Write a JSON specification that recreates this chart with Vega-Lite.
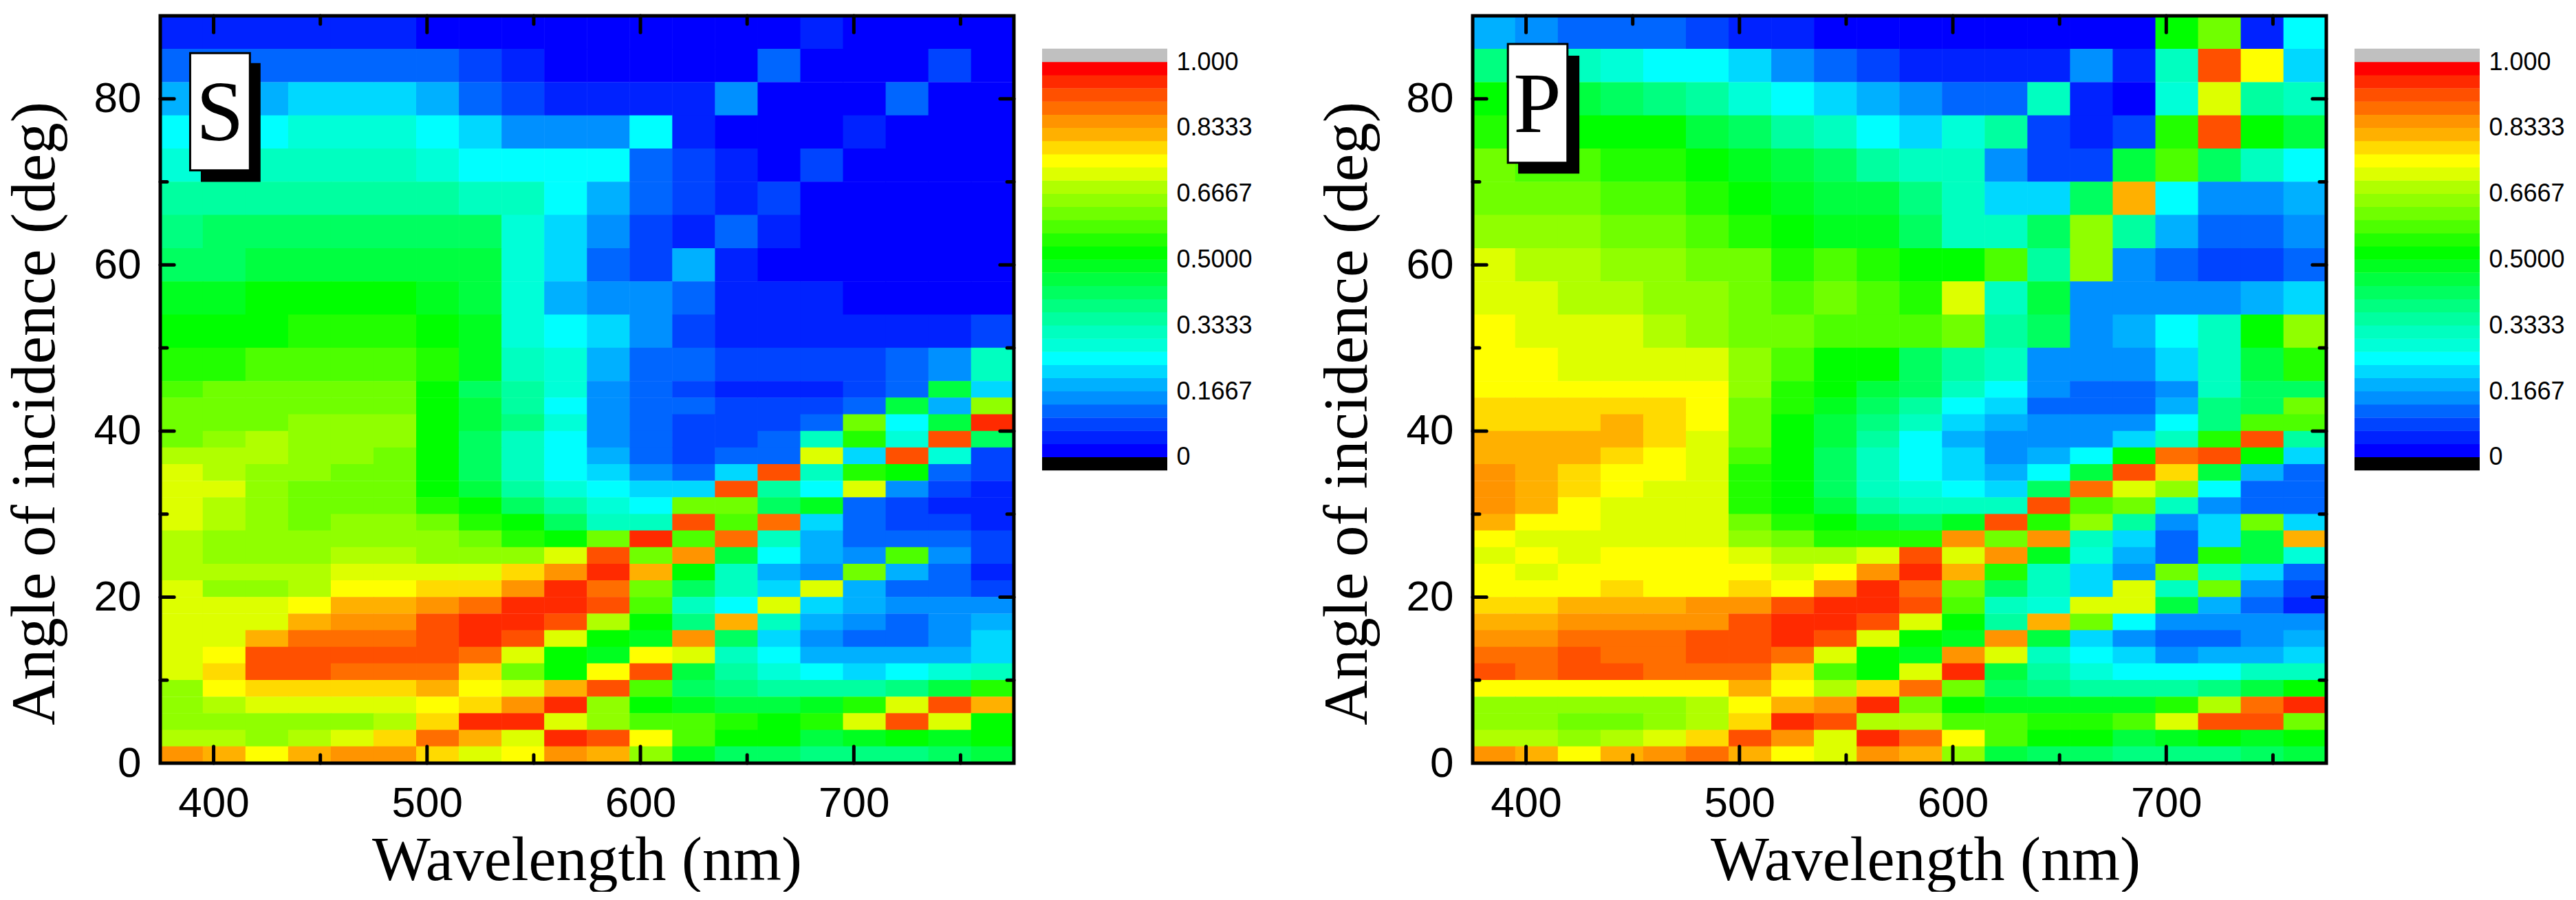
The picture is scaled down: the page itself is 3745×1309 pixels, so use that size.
{"$schema":"https://vega.github.io/schema/vega-lite/v6.json","background":"white","padding":{"left":5,"top":20,"right":0,"bottom":0},"config":{"view":{"stroke":null}},"bounds":"flush","spacing":41,
"datasets":{"S":[
{"w":385,"a":88,"v":0.04},{"w":405,"a":88,"v":0.04},{"w":425,"a":88,"v":0.04},{"w":445,"a":88,"v":0.04},{"w":465,"a":88,"v":0.04},{"w":485,"a":88,"v":0.04},{"w":505,"a":88,"v":0.03},{"w":525,"a":88,"v":0.02},{"w":545,"a":88,"v":0.02},{"w":565,"a":88,"v":0.02},{"w":585,"a":88,"v":0.02},{"w":605,"a":88,"v":0.02},{"w":625,"a":88,"v":0.02},{"w":645,"a":88,"v":0.02},{"w":665,"a":88,"v":0.02},{"w":685,"a":88,"v":0.05},{"w":705,"a":88,"v":0.02},{"w":725,"a":88,"v":0.02},{"w":745,"a":88,"v":0.02},{"w":765,"a":88,"v":0.02},
{"w":385,"a":84,"v":0.11},{"w":405,"a":84,"v":0.12},{"w":425,"a":84,"v":0.12},{"w":445,"a":84,"v":0.12},{"w":465,"a":84,"v":0.13},{"w":485,"a":84,"v":0.13},{"w":505,"a":84,"v":0.11},{"w":525,"a":84,"v":0.07},{"w":545,"a":84,"v":0.05},{"w":565,"a":84,"v":0.03},{"w":585,"a":84,"v":0.03},{"w":605,"a":84,"v":0.02},{"w":625,"a":84,"v":0.02},{"w":645,"a":84,"v":0.02},{"w":665,"a":84,"v":0.1},{"w":685,"a":84,"v":0.02},{"w":705,"a":84,"v":0.02},{"w":725,"a":84,"v":0.02},{"w":745,"a":84,"v":0.08},{"w":765,"a":84,"v":0.02},
{"w":385,"a":80,"v":0.17},{"w":405,"a":80,"v":0.18},{"w":425,"a":80,"v":0.19},{"w":445,"a":80,"v":0.2},{"w":465,"a":80,"v":0.2},{"w":485,"a":80,"v":0.2},{"w":505,"a":80,"v":0.17},{"w":525,"a":80,"v":0.13},{"w":545,"a":80,"v":0.08},{"w":565,"a":80,"v":0.06},{"w":585,"a":80,"v":0.05},{"w":605,"a":80,"v":0.05},{"w":625,"a":80,"v":0.06},{"w":645,"a":80,"v":0.15},{"w":665,"a":80,"v":0.03},{"w":685,"a":80,"v":0.02},{"w":705,"a":80,"v":0.02},{"w":725,"a":80,"v":0.12},{"w":745,"a":80,"v":0.02},{"w":765,"a":80,"v":0.02},
{"w":385,"a":76,"v":0.24},{"w":405,"a":76,"v":0.25},{"w":425,"a":76,"v":0.26},{"w":445,"a":76,"v":0.27},{"w":465,"a":76,"v":0.27},{"w":485,"a":76,"v":0.27},{"w":505,"a":76,"v":0.24},{"w":525,"a":76,"v":0.2},{"w":545,"a":76,"v":0.15},{"w":565,"a":76,"v":0.14},{"w":585,"a":76,"v":0.16},{"w":605,"a":76,"v":0.24},{"w":625,"a":76,"v":0.06},{"w":645,"a":76,"v":0.03},{"w":665,"a":76,"v":0.02},{"w":685,"a":76,"v":0.02},{"w":705,"a":76,"v":0.06},{"w":725,"a":76,"v":0.02},{"w":745,"a":76,"v":0.02},{"w":765,"a":76,"v":0.02},
{"w":385,"a":72,"v":0.29},{"w":405,"a":72,"v":0.3},{"w":425,"a":72,"v":0.3},{"w":445,"a":72,"v":0.31},{"w":465,"a":72,"v":0.31},{"w":485,"a":72,"v":0.31},{"w":505,"a":72,"v":0.29},{"w":525,"a":72,"v":0.26},{"w":545,"a":72,"v":0.25},{"w":565,"a":72,"v":0.25},{"w":585,"a":72,"v":0.26},{"w":605,"a":72,"v":0.12},{"w":625,"a":72,"v":0.08},{"w":645,"a":72,"v":0.04},{"w":665,"a":72,"v":0.02},{"w":685,"a":72,"v":0.07},{"w":705,"a":72,"v":0.03},{"w":725,"a":72,"v":0.02},{"w":745,"a":72,"v":0.02},{"w":765,"a":72,"v":0.02},
{"w":385,"a":68,"v":0.34},{"w":405,"a":68,"v":0.35},{"w":425,"a":68,"v":0.35},{"w":445,"a":68,"v":0.36},{"w":465,"a":68,"v":0.36},{"w":485,"a":68,"v":0.36},{"w":505,"a":68,"v":0.34},{"w":525,"a":68,"v":0.33},{"w":545,"a":68,"v":0.32},{"w":565,"a":68,"v":0.24},{"w":585,"a":68,"v":0.18},{"w":605,"a":68,"v":0.1},{"w":625,"a":68,"v":0.08},{"w":645,"a":68,"v":0.06},{"w":665,"a":68,"v":0.07},{"w":685,"a":68,"v":0.02},{"w":705,"a":68,"v":0.02},{"w":725,"a":68,"v":0.02},{"w":745,"a":68,"v":0.02},{"w":765,"a":68,"v":0.02},
{"w":385,"a":64,"v":0.39},{"w":405,"a":64,"v":0.4},{"w":425,"a":64,"v":0.41},{"w":445,"a":64,"v":0.41},{"w":465,"a":64,"v":0.42},{"w":485,"a":64,"v":0.42},{"w":505,"a":64,"v":0.41},{"w":525,"a":64,"v":0.4},{"w":545,"a":64,"v":0.28},{"w":565,"a":64,"v":0.2},{"w":585,"a":64,"v":0.14},{"w":605,"a":64,"v":0.08},{"w":625,"a":64,"v":0.06},{"w":645,"a":64,"v":0.1},{"w":665,"a":64,"v":0.04},{"w":685,"a":64,"v":0.02},{"w":705,"a":64,"v":0.02},{"w":725,"a":64,"v":0.02},{"w":745,"a":64,"v":0.02},{"w":765,"a":64,"v":0.02},
{"w":385,"a":60,"v":0.43},{"w":405,"a":60,"v":0.43},{"w":425,"a":60,"v":0.44},{"w":445,"a":60,"v":0.45},{"w":465,"a":60,"v":0.45},{"w":485,"a":60,"v":0.45},{"w":505,"a":60,"v":0.44},{"w":525,"a":60,"v":0.44},{"w":545,"a":60,"v":0.27},{"w":565,"a":60,"v":0.2},{"w":585,"a":60,"v":0.11},{"w":605,"a":60,"v":0.07},{"w":625,"a":60,"v":0.18},{"w":645,"a":60,"v":0.05},{"w":665,"a":60,"v":0.02},{"w":685,"a":60,"v":0.02},{"w":705,"a":60,"v":0.02},{"w":725,"a":60,"v":0.02},{"w":745,"a":60,"v":0.02},{"w":765,"a":60,"v":0.02},
{"w":385,"a":56,"v":0.48},{"w":405,"a":56,"v":0.49},{"w":425,"a":56,"v":0.5},{"w":445,"a":56,"v":0.5},{"w":465,"a":56,"v":0.5},{"w":485,"a":56,"v":0.5},{"w":505,"a":56,"v":0.48},{"w":525,"a":56,"v":0.46},{"w":545,"a":56,"v":0.27},{"w":565,"a":56,"v":0.18},{"w":585,"a":56,"v":0.14},{"w":605,"a":56,"v":0.15},{"w":625,"a":56,"v":0.1},{"w":645,"a":56,"v":0.05},{"w":665,"a":56,"v":0.05},{"w":685,"a":56,"v":0.04},{"w":705,"a":56,"v":0.03},{"w":725,"a":56,"v":0.03},{"w":745,"a":56,"v":0.03},{"w":765,"a":56,"v":0.03},
{"w":385,"a":52,"v":0.51},{"w":405,"a":52,"v":0.52},{"w":425,"a":52,"v":0.53},{"w":445,"a":52,"v":0.54},{"w":465,"a":52,"v":0.54},{"w":485,"a":52,"v":0.54},{"w":505,"a":52,"v":0.51},{"w":525,"a":52,"v":0.47},{"w":545,"a":52,"v":0.28},{"w":565,"a":52,"v":0.24},{"w":585,"a":52,"v":0.2},{"w":605,"a":52,"v":0.15},{"w":625,"a":52,"v":0.07},{"w":645,"a":52,"v":0.06},{"w":665,"a":52,"v":0.06},{"w":685,"a":52,"v":0.06},{"w":705,"a":52,"v":0.06},{"w":725,"a":52,"v":0.06},{"w":745,"a":52,"v":0.06},{"w":765,"a":52,"v":0.07},
{"w":385,"a":48,"v":0.55},{"w":405,"a":48,"v":0.56},{"w":425,"a":48,"v":0.57},{"w":445,"a":48,"v":0.57},{"w":465,"a":48,"v":0.58},{"w":485,"a":48,"v":0.58},{"w":505,"a":48,"v":0.55},{"w":525,"a":48,"v":0.49},{"w":545,"a":48,"v":0.33},{"w":565,"a":48,"v":0.28},{"w":585,"a":48,"v":0.17},{"w":605,"a":48,"v":0.12},{"w":625,"a":48,"v":0.1},{"w":645,"a":48,"v":0.09},{"w":665,"a":48,"v":0.08},{"w":685,"a":48,"v":0.08},{"w":705,"a":48,"v":0.08},{"w":725,"a":48,"v":0.1},{"w":745,"a":48,"v":0.14},{"w":765,"a":48,"v":0.3},
{"w":385,"a":45,"v":0.58},{"w":405,"a":45,"v":0.6},{"w":425,"a":45,"v":0.61},{"w":445,"a":45,"v":0.62},{"w":465,"a":45,"v":0.62},{"w":485,"a":45,"v":0.6},{"w":505,"a":45,"v":0.52},{"w":525,"a":45,"v":0.43},{"w":545,"a":45,"v":0.34},{"w":565,"a":45,"v":0.27},{"w":585,"a":45,"v":0.15},{"w":605,"a":45,"v":0.12},{"w":625,"a":45,"v":0.08},{"w":645,"a":45,"v":0.06},{"w":665,"a":45,"v":0.05},{"w":685,"a":45,"v":0.05},{"w":705,"a":45,"v":0.08},{"w":725,"a":45,"v":0.1},{"w":745,"a":45,"v":0.45},{"w":765,"a":45,"v":0.2},
{"w":385,"a":43,"v":0.6},{"w":405,"a":43,"v":0.61},{"w":425,"a":43,"v":0.62},{"w":445,"a":43,"v":0.63},{"w":465,"a":43,"v":0.62},{"w":485,"a":43,"v":0.62},{"w":505,"a":43,"v":0.52},{"w":525,"a":43,"v":0.44},{"w":545,"a":43,"v":0.36},{"w":565,"a":43,"v":0.26},{"w":585,"a":43,"v":0.15},{"w":605,"a":43,"v":0.12},{"w":625,"a":43,"v":0.1},{"w":645,"a":43,"v":0.08},{"w":665,"a":43,"v":0.08},{"w":685,"a":43,"v":0.08},{"w":705,"a":43,"v":0.12},{"w":725,"a":43,"v":0.45},{"w":745,"a":43,"v":0.18},{"w":765,"a":43,"v":0.65},
{"w":385,"a":41,"v":0.6},{"w":405,"a":41,"v":0.62},{"w":425,"a":41,"v":0.63},{"w":445,"a":41,"v":0.64},{"w":465,"a":41,"v":0.65},{"w":485,"a":41,"v":0.64},{"w":505,"a":41,"v":0.53},{"w":525,"a":41,"v":0.45},{"w":545,"a":41,"v":0.38},{"w":565,"a":41,"v":0.27},{"w":585,"a":41,"v":0.15},{"w":605,"a":41,"v":0.12},{"w":625,"a":41,"v":0.08},{"w":645,"a":41,"v":0.08},{"w":665,"a":41,"v":0.08},{"w":685,"a":41,"v":0.12},{"w":705,"a":41,"v":0.6},{"w":725,"a":41,"v":0.25},{"w":745,"a":41,"v":0.45},{"w":765,"a":41,"v":0.96},
{"w":385,"a":39,"v":0.63},{"w":405,"a":39,"v":0.65},{"w":425,"a":39,"v":0.67},{"w":445,"a":39,"v":0.66},{"w":465,"a":39,"v":0.65},{"w":485,"a":39,"v":0.64},{"w":505,"a":39,"v":0.52},{"w":525,"a":39,"v":0.43},{"w":545,"a":39,"v":0.33},{"w":565,"a":39,"v":0.25},{"w":585,"a":39,"v":0.16},{"w":605,"a":39,"v":0.12},{"w":625,"a":39,"v":0.09},{"w":645,"a":39,"v":0.09},{"w":665,"a":39,"v":0.1},{"w":685,"a":39,"v":0.32},{"w":705,"a":39,"v":0.55},{"w":725,"a":39,"v":0.28},{"w":745,"a":39,"v":0.9},{"w":765,"a":39,"v":0.4},
{"w":385,"a":37,"v":0.68},{"w":405,"a":37,"v":0.68},{"w":425,"a":37,"v":0.68},{"w":445,"a":37,"v":0.66},{"w":465,"a":37,"v":0.64},{"w":485,"a":37,"v":0.62},{"w":505,"a":37,"v":0.52},{"w":525,"a":37,"v":0.42},{"w":545,"a":37,"v":0.32},{"w":565,"a":37,"v":0.25},{"w":585,"a":37,"v":0.17},{"w":605,"a":37,"v":0.13},{"w":625,"a":37,"v":0.09},{"w":645,"a":37,"v":0.1},{"w":665,"a":37,"v":0.13},{"w":685,"a":37,"v":0.7},{"w":705,"a":37,"v":0.22},{"w":725,"a":37,"v":0.9},{"w":745,"a":37,"v":0.28},{"w":765,"a":37,"v":0.08},
{"w":385,"a":35,"v":0.7},{"w":405,"a":35,"v":0.68},{"w":425,"a":35,"v":0.66},{"w":445,"a":35,"v":0.64},{"w":465,"a":35,"v":0.62},{"w":485,"a":35,"v":0.6},{"w":505,"a":35,"v":0.52},{"w":525,"a":35,"v":0.43},{"w":545,"a":35,"v":0.32},{"w":565,"a":35,"v":0.25},{"w":585,"a":35,"v":0.2},{"w":605,"a":35,"v":0.14},{"w":625,"a":35,"v":0.12},{"w":645,"a":35,"v":0.22},{"w":665,"a":35,"v":0.9},{"w":685,"a":35,"v":0.3},{"w":705,"a":35,"v":0.55},{"w":725,"a":35,"v":0.5},{"w":745,"a":35,"v":0.1},{"w":765,"a":35,"v":0.07},
{"w":385,"a":33,"v":0.72},{"w":405,"a":33,"v":0.7},{"w":425,"a":33,"v":0.66},{"w":445,"a":33,"v":0.62},{"w":465,"a":33,"v":0.6},{"w":485,"a":33,"v":0.6},{"w":505,"a":33,"v":0.53},{"w":525,"a":33,"v":0.45},{"w":545,"a":33,"v":0.36},{"w":565,"a":33,"v":0.28},{"w":585,"a":33,"v":0.24},{"w":605,"a":33,"v":0.2},{"w":625,"a":33,"v":0.22},{"w":645,"a":33,"v":0.92},{"w":665,"a":33,"v":0.35},{"w":685,"a":33,"v":0.25},{"w":705,"a":33,"v":0.72},{"w":725,"a":33,"v":0.15},{"w":745,"a":33,"v":0.08},{"w":765,"a":33,"v":0.05},
{"w":385,"a":31,"v":0.72},{"w":405,"a":31,"v":0.68},{"w":425,"a":31,"v":0.66},{"w":445,"a":31,"v":0.62},{"w":465,"a":31,"v":0.62},{"w":485,"a":31,"v":0.62},{"w":505,"a":31,"v":0.56},{"w":525,"a":31,"v":0.5},{"w":545,"a":31,"v":0.42},{"w":565,"a":31,"v":0.34},{"w":585,"a":31,"v":0.28},{"w":605,"a":31,"v":0.25},{"w":625,"a":31,"v":0.6},{"w":645,"a":31,"v":0.6},{"w":665,"a":31,"v":0.42},{"w":685,"a":31,"v":0.48},{"w":705,"a":31,"v":0.12},{"w":725,"a":31,"v":0.08},{"w":745,"a":31,"v":0.06},{"w":765,"a":31,"v":0.05},
{"w":385,"a":29,"v":0.7},{"w":405,"a":29,"v":0.68},{"w":425,"a":29,"v":0.64},{"w":445,"a":29,"v":0.62},{"w":465,"a":29,"v":0.64},{"w":485,"a":29,"v":0.64},{"w":505,"a":29,"v":0.6},{"w":525,"a":29,"v":0.55},{"w":545,"a":29,"v":0.5},{"w":565,"a":29,"v":0.4},{"w":585,"a":29,"v":0.33},{"w":605,"a":29,"v":0.3},{"w":625,"a":29,"v":0.92},{"w":645,"a":29,"v":0.58},{"w":665,"a":29,"v":0.88},{"w":685,"a":29,"v":0.22},{"w":705,"a":29,"v":0.12},{"w":725,"a":29,"v":0.08},{"w":745,"a":29,"v":0.07},{"w":765,"a":29,"v":0.05},
{"w":385,"a":27,"v":0.68},{"w":405,"a":27,"v":0.66},{"w":425,"a":27,"v":0.64},{"w":445,"a":27,"v":0.64},{"w":465,"a":27,"v":0.65},{"w":485,"a":27,"v":0.64},{"w":505,"a":27,"v":0.64},{"w":525,"a":27,"v":0.6},{"w":545,"a":27,"v":0.55},{"w":565,"a":27,"v":0.53},{"w":585,"a":27,"v":0.62},{"w":605,"a":27,"v":0.94},{"w":625,"a":27,"v":0.58},{"w":645,"a":27,"v":0.88},{"w":665,"a":27,"v":0.32},{"w":685,"a":27,"v":0.18},{"w":705,"a":27,"v":0.13},{"w":725,"a":27,"v":0.12},{"w":745,"a":27,"v":0.1},{"w":765,"a":27,"v":0.08},
{"w":385,"a":25,"v":0.68},{"w":405,"a":25,"v":0.66},{"w":425,"a":25,"v":0.66},{"w":445,"a":25,"v":0.66},{"w":465,"a":25,"v":0.67},{"w":485,"a":25,"v":0.68},{"w":505,"a":25,"v":0.66},{"w":525,"a":25,"v":0.66},{"w":545,"a":25,"v":0.65},{"w":565,"a":25,"v":0.72},{"w":585,"a":25,"v":0.93},{"w":605,"a":25,"v":0.62},{"w":625,"a":25,"v":0.85},{"w":645,"a":25,"v":0.45},{"w":665,"a":25,"v":0.25},{"w":685,"a":25,"v":0.18},{"w":705,"a":25,"v":0.15},{"w":725,"a":25,"v":0.58},{"w":745,"a":25,"v":0.14},{"w":765,"a":25,"v":0.08},
{"w":385,"a":23,"v":0.68},{"w":405,"a":23,"v":0.67},{"w":425,"a":23,"v":0.67},{"w":445,"a":23,"v":0.68},{"w":465,"a":23,"v":0.7},{"w":485,"a":23,"v":0.72},{"w":505,"a":23,"v":0.71},{"w":525,"a":23,"v":0.7},{"w":545,"a":23,"v":0.77},{"w":565,"a":23,"v":0.85},{"w":585,"a":23,"v":0.94},{"w":605,"a":23,"v":0.82},{"w":625,"a":23,"v":0.5},{"w":645,"a":23,"v":0.3},{"w":665,"a":23,"v":0.18},{"w":685,"a":23,"v":0.14},{"w":705,"a":23,"v":0.62},{"w":725,"a":23,"v":0.18},{"w":745,"a":23,"v":0.1},{"w":765,"a":23,"v":0.05},
{"w":385,"a":21,"v":0.7},{"w":405,"a":21,"v":0.65},{"w":425,"a":21,"v":0.66},{"w":445,"a":21,"v":0.68},{"w":465,"a":21,"v":0.74},{"w":485,"a":21,"v":0.75},{"w":505,"a":21,"v":0.78},{"w":525,"a":21,"v":0.77},{"w":545,"a":21,"v":0.85},{"w":565,"a":21,"v":0.95},{"w":585,"a":21,"v":0.88},{"w":605,"a":21,"v":0.6},{"w":625,"a":21,"v":0.42},{"w":645,"a":21,"v":0.3},{"w":665,"a":21,"v":0.22},{"w":685,"a":21,"v":0.72},{"w":705,"a":21,"v":0.18},{"w":725,"a":21,"v":0.12},{"w":745,"a":21,"v":0.1},{"w":765,"a":21,"v":0.08},
{"w":385,"a":19,"v":0.72},{"w":405,"a":19,"v":0.7},{"w":425,"a":19,"v":0.72},{"w":445,"a":19,"v":0.75},{"w":465,"a":19,"v":0.82},{"w":485,"a":19,"v":0.82},{"w":505,"a":19,"v":0.86},{"w":525,"a":19,"v":0.88},{"w":545,"a":19,"v":0.95},{"w":565,"a":19,"v":0.96},{"w":585,"a":19,"v":0.9},{"w":605,"a":19,"v":0.58},{"w":625,"a":19,"v":0.3},{"w":645,"a":19,"v":0.26},{"w":665,"a":19,"v":0.72},{"w":685,"a":19,"v":0.22},{"w":705,"a":19,"v":0.18},{"w":725,"a":19,"v":0.15},{"w":745,"a":19,"v":0.15},{"w":765,"a":19,"v":0.14},
{"w":385,"a":17,"v":0.72},{"w":405,"a":17,"v":0.7},{"w":425,"a":17,"v":0.72},{"w":445,"a":17,"v":0.82},{"w":465,"a":17,"v":0.85},{"w":485,"a":17,"v":0.86},{"w":505,"a":17,"v":0.9},{"w":525,"a":17,"v":0.95},{"w":545,"a":17,"v":0.96},{"w":565,"a":17,"v":0.92},{"w":585,"a":17,"v":0.68},{"w":605,"a":17,"v":0.52},{"w":625,"a":17,"v":0.38},{"w":645,"a":17,"v":0.8},{"w":665,"a":17,"v":0.32},{"w":685,"a":17,"v":0.18},{"w":705,"a":17,"v":0.15},{"w":725,"a":17,"v":0.13},{"w":745,"a":17,"v":0.14},{"w":765,"a":17,"v":0.18},
{"w":385,"a":15,"v":0.72},{"w":405,"a":15,"v":0.72},{"w":425,"a":15,"v":0.8},{"w":445,"a":15,"v":0.88},{"w":465,"a":15,"v":0.88},{"w":485,"a":15,"v":0.88},{"w":505,"a":15,"v":0.92},{"w":525,"a":15,"v":0.95},{"w":545,"a":15,"v":0.92},{"w":565,"a":15,"v":0.72},{"w":585,"a":15,"v":0.5},{"w":605,"a":15,"v":0.47},{"w":625,"a":15,"v":0.85},{"w":645,"a":15,"v":0.42},{"w":665,"a":15,"v":0.22},{"w":685,"a":15,"v":0.15},{"w":705,"a":15,"v":0.1},{"w":725,"a":15,"v":0.1},{"w":745,"a":15,"v":0.15},{"w":765,"a":15,"v":0.2},
{"w":385,"a":13,"v":0.72},{"w":405,"a":13,"v":0.75},{"w":425,"a":13,"v":0.92},{"w":445,"a":13,"v":0.92},{"w":465,"a":13,"v":0.92},{"w":485,"a":13,"v":0.92},{"w":505,"a":13,"v":0.93},{"w":525,"a":13,"v":0.88},{"w":545,"a":13,"v":0.72},{"w":565,"a":13,"v":0.53},{"w":585,"a":13,"v":0.48},{"w":605,"a":13,"v":0.76},{"w":625,"a":13,"v":0.72},{"w":645,"a":13,"v":0.33},{"w":665,"a":13,"v":0.25},{"w":685,"a":13,"v":0.18},{"w":705,"a":13,"v":0.18},{"w":725,"a":13,"v":0.18},{"w":745,"a":13,"v":0.18},{"w":765,"a":13,"v":0.2},
{"w":385,"a":11,"v":0.72},{"w":405,"a":11,"v":0.78},{"w":425,"a":11,"v":0.92},{"w":445,"a":11,"v":0.9},{"w":465,"a":11,"v":0.89},{"w":485,"a":11,"v":0.88},{"w":505,"a":11,"v":0.88},{"w":525,"a":11,"v":0.78},{"w":545,"a":11,"v":0.6},{"w":565,"a":11,"v":0.5},{"w":585,"a":11,"v":0.75},{"w":605,"a":11,"v":0.92},{"w":625,"a":11,"v":0.45},{"w":645,"a":11,"v":0.35},{"w":665,"a":11,"v":0.28},{"w":685,"a":11,"v":0.25},{"w":705,"a":11,"v":0.23},{"w":725,"a":11,"v":0.25},{"w":745,"a":11,"v":0.28},{"w":765,"a":11,"v":0.3},
{"w":385,"a":9,"v":0.65},{"w":405,"a":9,"v":0.75},{"w":425,"a":9,"v":0.78},{"w":445,"a":9,"v":0.78},{"w":465,"a":9,"v":0.78},{"w":485,"a":9,"v":0.78},{"w":505,"a":9,"v":0.8},{"w":525,"a":9,"v":0.76},{"w":545,"a":9,"v":0.7},{"w":565,"a":9,"v":0.8},{"w":585,"a":9,"v":0.92},{"w":605,"a":9,"v":0.58},{"w":625,"a":9,"v":0.42},{"w":645,"a":9,"v":0.38},{"w":665,"a":9,"v":0.35},{"w":685,"a":9,"v":0.35},{"w":705,"a":9,"v":0.35},{"w":725,"a":9,"v":0.38},{"w":745,"a":9,"v":0.45},{"w":765,"a":9,"v":0.55},
{"w":385,"a":7,"v":0.66},{"w":405,"a":7,"v":0.68},{"w":425,"a":7,"v":0.7},{"w":445,"a":7,"v":0.7},{"w":465,"a":7,"v":0.7},{"w":485,"a":7,"v":0.7},{"w":505,"a":7,"v":0.76},{"w":525,"a":7,"v":0.78},{"w":545,"a":7,"v":0.85},{"w":565,"a":7,"v":0.94},{"w":585,"a":7,"v":0.65},{"w":605,"a":7,"v":0.52},{"w":625,"a":7,"v":0.48},{"w":645,"a":7,"v":0.46},{"w":665,"a":7,"v":0.46},{"w":685,"a":7,"v":0.48},{"w":705,"a":7,"v":0.55},{"w":725,"a":7,"v":0.72},{"w":745,"a":7,"v":0.92},{"w":765,"a":7,"v":0.82},
{"w":385,"a":5,"v":0.65},{"w":405,"a":5,"v":0.65},{"w":425,"a":5,"v":0.66},{"w":445,"a":5,"v":0.66},{"w":465,"a":5,"v":0.66},{"w":485,"a":5,"v":0.68},{"w":505,"a":5,"v":0.78},{"w":525,"a":5,"v":0.94},{"w":545,"a":5,"v":0.94},{"w":565,"a":5,"v":0.7},{"w":585,"a":5,"v":0.66},{"w":605,"a":5,"v":0.58},{"w":625,"a":5,"v":0.58},{"w":645,"a":5,"v":0.54},{"w":665,"a":5,"v":0.52},{"w":685,"a":5,"v":0.54},{"w":705,"a":5,"v":0.72},{"w":725,"a":5,"v":0.9},{"w":745,"a":5,"v":0.7},{"w":765,"a":5,"v":0.5},
{"w":385,"a":3,"v":0.68},{"w":405,"a":3,"v":0.68},{"w":425,"a":3,"v":0.66},{"w":445,"a":3,"v":0.68},{"w":465,"a":3,"v":0.72},{"w":485,"a":3,"v":0.78},{"w":505,"a":3,"v":0.88},{"w":525,"a":3,"v":0.8},{"w":545,"a":3,"v":0.7},{"w":565,"a":3,"v":0.96},{"w":585,"a":3,"v":0.9},{"w":605,"a":3,"v":0.76},{"w":625,"a":3,"v":0.58},{"w":645,"a":3,"v":0.52},{"w":665,"a":3,"v":0.5},{"w":685,"a":3,"v":0.46},{"w":705,"a":3,"v":0.48},{"w":725,"a":3,"v":0.5},{"w":745,"a":3,"v":0.48},{"w":765,"a":3,"v":0.52},
{"w":385,"a":1,"v":0.85},{"w":405,"a":1,"v":0.82},{"w":425,"a":1,"v":0.76},{"w":445,"a":1,"v":0.8},{"w":465,"a":1,"v":0.86},{"w":485,"a":1,"v":0.85},{"w":505,"a":1,"v":0.78},{"w":525,"a":1,"v":0.72},{"w":545,"a":1,"v":0.74},{"w":565,"a":1,"v":0.86},{"w":585,"a":1,"v":0.8},{"w":605,"a":1,"v":0.66},{"w":625,"a":1,"v":0.48},{"w":645,"a":1,"v":0.42},{"w":665,"a":1,"v":0.4},{"w":685,"a":1,"v":0.38},{"w":705,"a":1,"v":0.38},{"w":725,"a":1,"v":0.38},{"w":745,"a":1,"v":0.42},{"w":765,"a":1,"v":0.46}],
"P":[
{"w":385,"a":88,"v":0.18},{"w":405,"a":88,"v":0.16},{"w":425,"a":88,"v":0.13},{"w":445,"a":88,"v":0.12},{"w":465,"a":88,"v":0.1},{"w":485,"a":88,"v":0.08},{"w":505,"a":88,"v":0.06},{"w":525,"a":88,"v":0.05},{"w":545,"a":88,"v":0.03},{"w":565,"a":88,"v":0.02},{"w":585,"a":88,"v":0.02},{"w":605,"a":88,"v":0.02},{"w":625,"a":88,"v":0.02},{"w":645,"a":88,"v":0.02},{"w":665,"a":88,"v":0.02},{"w":685,"a":88,"v":0.03},{"w":705,"a":88,"v":0.5},{"w":725,"a":88,"v":0.6},{"w":745,"a":88,"v":0.05},{"w":765,"a":88,"v":0.25},
{"w":385,"a":84,"v":0.38},{"w":405,"a":84,"v":0.36},{"w":425,"a":84,"v":0.32},{"w":445,"a":84,"v":0.28},{"w":465,"a":84,"v":0.26},{"w":485,"a":84,"v":0.25},{"w":505,"a":84,"v":0.22},{"w":525,"a":84,"v":0.15},{"w":545,"a":84,"v":0.12},{"w":565,"a":84,"v":0.08},{"w":585,"a":84,"v":0.05},{"w":605,"a":84,"v":0.05},{"w":625,"a":84,"v":0.04},{"w":645,"a":84,"v":0.04},{"w":665,"a":84,"v":0.15},{"w":685,"a":84,"v":0.06},{"w":705,"a":84,"v":0.3},{"w":725,"a":84,"v":0.92},{"w":745,"a":84,"v":0.75},{"w":765,"a":84,"v":0.22},
{"w":385,"a":80,"v":0.52},{"w":405,"a":80,"v":0.5},{"w":425,"a":80,"v":0.46},{"w":445,"a":80,"v":0.42},{"w":465,"a":80,"v":0.38},{"w":485,"a":80,"v":0.35},{"w":505,"a":80,"v":0.28},{"w":525,"a":80,"v":0.25},{"w":545,"a":80,"v":0.22},{"w":565,"a":80,"v":0.18},{"w":585,"a":80,"v":0.15},{"w":605,"a":80,"v":0.12},{"w":625,"a":80,"v":0.1},{"w":645,"a":80,"v":0.3},{"w":665,"a":80,"v":0.05},{"w":685,"a":80,"v":0.03},{"w":705,"a":80,"v":0.28},{"w":725,"a":80,"v":0.7},{"w":745,"a":80,"v":0.35},{"w":765,"a":80,"v":0.32},
{"w":385,"a":76,"v":0.56},{"w":405,"a":76,"v":0.55},{"w":425,"a":76,"v":0.53},{"w":445,"a":76,"v":0.52},{"w":465,"a":76,"v":0.5},{"w":485,"a":76,"v":0.46},{"w":505,"a":76,"v":0.42},{"w":525,"a":76,"v":0.36},{"w":545,"a":76,"v":0.3},{"w":565,"a":76,"v":0.24},{"w":585,"a":76,"v":0.22},{"w":605,"a":76,"v":0.28},{"w":625,"a":76,"v":0.35},{"w":645,"a":76,"v":0.08},{"w":665,"a":76,"v":0.05},{"w":685,"a":76,"v":0.08},{"w":705,"a":76,"v":0.55},{"w":725,"a":76,"v":0.9},{"w":745,"a":76,"v":0.52},{"w":765,"a":76,"v":0.46},
{"w":385,"a":72,"v":0.6},{"w":405,"a":72,"v":0.59},{"w":425,"a":72,"v":0.57},{"w":445,"a":72,"v":0.56},{"w":465,"a":72,"v":0.55},{"w":485,"a":72,"v":0.52},{"w":505,"a":72,"v":0.48},{"w":525,"a":72,"v":0.44},{"w":545,"a":72,"v":0.4},{"w":565,"a":72,"v":0.36},{"w":585,"a":72,"v":0.32},{"w":605,"a":72,"v":0.3},{"w":625,"a":72,"v":0.15},{"w":645,"a":72,"v":0.08},{"w":665,"a":72,"v":0.08},{"w":685,"a":72,"v":0.45},{"w":705,"a":72,"v":0.58},{"w":725,"a":72,"v":0.4},{"w":745,"a":72,"v":0.3},{"w":765,"a":72,"v":0.26},
{"w":385,"a":68,"v":0.62},{"w":405,"a":68,"v":0.63},{"w":425,"a":68,"v":0.6},{"w":445,"a":68,"v":0.58},{"w":465,"a":68,"v":0.58},{"w":485,"a":68,"v":0.56},{"w":505,"a":68,"v":0.52},{"w":525,"a":68,"v":0.48},{"w":545,"a":68,"v":0.46},{"w":565,"a":68,"v":0.45},{"w":585,"a":68,"v":0.38},{"w":605,"a":68,"v":0.32},{"w":625,"a":68,"v":0.22},{"w":645,"a":68,"v":0.22},{"w":665,"a":68,"v":0.42},{"w":685,"a":68,"v":0.8},{"w":705,"a":68,"v":0.25},{"w":725,"a":68,"v":0.15},{"w":745,"a":68,"v":0.14},{"w":765,"a":68,"v":0.18},
{"w":385,"a":64,"v":0.64},{"w":405,"a":64,"v":0.66},{"w":425,"a":64,"v":0.65},{"w":445,"a":64,"v":0.62},{"w":465,"a":64,"v":0.61},{"w":485,"a":64,"v":0.58},{"w":505,"a":64,"v":0.55},{"w":525,"a":64,"v":0.52},{"w":545,"a":64,"v":0.48},{"w":565,"a":64,"v":0.47},{"w":585,"a":64,"v":0.4},{"w":605,"a":64,"v":0.33},{"w":625,"a":64,"v":0.3},{"w":645,"a":64,"v":0.4},{"w":665,"a":64,"v":0.65},{"w":685,"a":64,"v":0.35},{"w":705,"a":64,"v":0.18},{"w":725,"a":64,"v":0.12},{"w":745,"a":64,"v":0.12},{"w":765,"a":64,"v":0.15},
{"w":385,"a":60,"v":0.7},{"w":405,"a":60,"v":0.68},{"w":425,"a":60,"v":0.67},{"w":445,"a":60,"v":0.66},{"w":465,"a":60,"v":0.64},{"w":485,"a":60,"v":0.62},{"w":505,"a":60,"v":0.6},{"w":525,"a":60,"v":0.55},{"w":545,"a":60,"v":0.58},{"w":565,"a":60,"v":0.56},{"w":585,"a":60,"v":0.52},{"w":605,"a":60,"v":0.5},{"w":625,"a":60,"v":0.58},{"w":645,"a":60,"v":0.35},{"w":665,"a":60,"v":0.65},{"w":685,"a":60,"v":0.15},{"w":705,"a":60,"v":0.1},{"w":725,"a":60,"v":0.08},{"w":745,"a":60,"v":0.08},{"w":765,"a":60,"v":0.12},
{"w":385,"a":56,"v":0.72},{"w":405,"a":56,"v":0.7},{"w":425,"a":56,"v":0.68},{"w":445,"a":56,"v":0.68},{"w":465,"a":56,"v":0.66},{"w":485,"a":56,"v":0.64},{"w":505,"a":56,"v":0.62},{"w":525,"a":56,"v":0.57},{"w":545,"a":56,"v":0.6},{"w":565,"a":56,"v":0.57},{"w":585,"a":56,"v":0.56},{"w":605,"a":56,"v":0.72},{"w":625,"a":56,"v":0.32},{"w":645,"a":56,"v":0.45},{"w":665,"a":56,"v":0.14},{"w":685,"a":56,"v":0.14},{"w":705,"a":56,"v":0.15},{"w":725,"a":56,"v":0.15},{"w":745,"a":56,"v":0.18},{"w":765,"a":56,"v":0.22},
{"w":385,"a":52,"v":0.74},{"w":405,"a":52,"v":0.72},{"w":425,"a":52,"v":0.71},{"w":445,"a":52,"v":0.7},{"w":465,"a":52,"v":0.69},{"w":485,"a":52,"v":0.66},{"w":505,"a":52,"v":0.63},{"w":525,"a":52,"v":0.6},{"w":545,"a":52,"v":0.58},{"w":565,"a":52,"v":0.57},{"w":585,"a":52,"v":0.58},{"w":605,"a":52,"v":0.62},{"w":625,"a":52,"v":0.35},{"w":645,"a":52,"v":0.4},{"w":665,"a":52,"v":0.15},{"w":685,"a":52,"v":0.18},{"w":705,"a":52,"v":0.26},{"w":725,"a":52,"v":0.32},{"w":745,"a":52,"v":0.5},{"w":765,"a":52,"v":0.65},
{"w":385,"a":48,"v":0.75},{"w":405,"a":48,"v":0.74},{"w":425,"a":48,"v":0.73},{"w":445,"a":48,"v":0.72},{"w":465,"a":48,"v":0.72},{"w":485,"a":48,"v":0.7},{"w":505,"a":48,"v":0.66},{"w":525,"a":48,"v":0.58},{"w":545,"a":48,"v":0.5},{"w":565,"a":48,"v":0.5},{"w":585,"a":48,"v":0.42},{"w":605,"a":48,"v":0.35},{"w":625,"a":48,"v":0.3},{"w":645,"a":48,"v":0.15},{"w":665,"a":48,"v":0.15},{"w":685,"a":48,"v":0.15},{"w":705,"a":48,"v":0.22},{"w":725,"a":48,"v":0.3},{"w":745,"a":48,"v":0.45},{"w":765,"a":48,"v":0.55},
{"w":385,"a":45,"v":0.76},{"w":405,"a":45,"v":0.76},{"w":425,"a":45,"v":0.76},{"w":445,"a":45,"v":0.76},{"w":465,"a":45,"v":0.76},{"w":485,"a":45,"v":0.74},{"w":505,"a":45,"v":0.64},{"w":525,"a":45,"v":0.54},{"w":545,"a":45,"v":0.5},{"w":565,"a":45,"v":0.44},{"w":585,"a":45,"v":0.4},{"w":605,"a":45,"v":0.32},{"w":625,"a":45,"v":0.25},{"w":645,"a":45,"v":0.14},{"w":665,"a":45,"v":0.12},{"w":685,"a":45,"v":0.12},{"w":705,"a":45,"v":0.16},{"w":725,"a":45,"v":0.32},{"w":745,"a":45,"v":0.4},{"w":765,"a":45,"v":0.42},
{"w":385,"a":43,"v":0.77},{"w":405,"a":43,"v":0.78},{"w":425,"a":43,"v":0.78},{"w":445,"a":43,"v":0.79},{"w":465,"a":43,"v":0.78},{"w":485,"a":43,"v":0.74},{"w":505,"a":43,"v":0.62},{"w":525,"a":43,"v":0.54},{"w":545,"a":43,"v":0.48},{"w":565,"a":43,"v":0.42},{"w":585,"a":43,"v":0.34},{"w":605,"a":43,"v":0.24},{"w":625,"a":43,"v":0.22},{"w":645,"a":43,"v":0.13},{"w":665,"a":43,"v":0.12},{"w":685,"a":43,"v":0.12},{"w":705,"a":43,"v":0.18},{"w":725,"a":43,"v":0.38},{"w":745,"a":43,"v":0.4},{"w":765,"a":43,"v":0.62},
{"w":385,"a":41,"v":0.78},{"w":405,"a":41,"v":0.79},{"w":425,"a":41,"v":0.79},{"w":445,"a":41,"v":0.8},{"w":465,"a":41,"v":0.78},{"w":485,"a":41,"v":0.74},{"w":505,"a":41,"v":0.62},{"w":525,"a":41,"v":0.52},{"w":545,"a":41,"v":0.46},{"w":565,"a":41,"v":0.38},{"w":585,"a":41,"v":0.3},{"w":605,"a":41,"v":0.2},{"w":625,"a":41,"v":0.18},{"w":645,"a":41,"v":0.14},{"w":665,"a":41,"v":0.14},{"w":685,"a":41,"v":0.16},{"w":705,"a":41,"v":0.24},{"w":725,"a":41,"v":0.38},{"w":745,"a":41,"v":0.58},{"w":765,"a":41,"v":0.58},
{"w":385,"a":39,"v":0.8},{"w":405,"a":39,"v":0.81},{"w":425,"a":39,"v":0.82},{"w":445,"a":39,"v":0.8},{"w":465,"a":39,"v":0.78},{"w":485,"a":39,"v":0.72},{"w":505,"a":39,"v":0.6},{"w":525,"a":39,"v":0.52},{"w":545,"a":39,"v":0.44},{"w":565,"a":39,"v":0.36},{"w":585,"a":39,"v":0.25},{"w":605,"a":39,"v":0.18},{"w":625,"a":39,"v":0.15},{"w":645,"a":39,"v":0.14},{"w":665,"a":39,"v":0.14},{"w":685,"a":39,"v":0.2},{"w":705,"a":39,"v":0.3},{"w":725,"a":39,"v":0.55},{"w":745,"a":39,"v":0.92},{"w":765,"a":39,"v":0.35},
{"w":385,"a":37,"v":0.82},{"w":405,"a":37,"v":0.82},{"w":425,"a":37,"v":0.82},{"w":445,"a":37,"v":0.78},{"w":465,"a":37,"v":0.76},{"w":485,"a":37,"v":0.72},{"w":505,"a":37,"v":0.58},{"w":525,"a":37,"v":0.5},{"w":545,"a":37,"v":0.42},{"w":565,"a":37,"v":0.3},{"w":585,"a":37,"v":0.25},{"w":605,"a":37,"v":0.2},{"w":625,"a":37,"v":0.16},{"w":645,"a":37,"v":0.18},{"w":665,"a":37,"v":0.25},{"w":685,"a":37,"v":0.5},{"w":705,"a":37,"v":0.88},{"w":725,"a":37,"v":0.92},{"w":745,"a":37,"v":0.5},{"w":765,"a":37,"v":0.22},
{"w":385,"a":35,"v":0.84},{"w":405,"a":35,"v":0.82},{"w":425,"a":35,"v":0.78},{"w":445,"a":35,"v":0.76},{"w":465,"a":35,"v":0.74},{"w":485,"a":35,"v":0.7},{"w":505,"a":35,"v":0.56},{"w":525,"a":35,"v":0.5},{"w":545,"a":35,"v":0.42},{"w":565,"a":35,"v":0.3},{"w":585,"a":35,"v":0.25},{"w":605,"a":35,"v":0.2},{"w":625,"a":35,"v":0.18},{"w":645,"a":35,"v":0.25},{"w":665,"a":35,"v":0.45},{"w":685,"a":35,"v":0.9},{"w":705,"a":35,"v":0.78},{"w":725,"a":35,"v":0.45},{"w":745,"a":35,"v":0.18},{"w":765,"a":35,"v":0.12},
{"w":385,"a":33,"v":0.85},{"w":405,"a":33,"v":0.82},{"w":425,"a":33,"v":0.78},{"w":445,"a":33,"v":0.76},{"w":465,"a":33,"v":0.73},{"w":485,"a":33,"v":0.72},{"w":505,"a":33,"v":0.56},{"w":525,"a":33,"v":0.5},{"w":545,"a":33,"v":0.42},{"w":565,"a":33,"v":0.32},{"w":585,"a":33,"v":0.27},{"w":605,"a":33,"v":0.25},{"w":625,"a":33,"v":0.22},{"w":645,"a":33,"v":0.4},{"w":665,"a":33,"v":0.88},{"w":685,"a":33,"v":0.72},{"w":705,"a":33,"v":0.65},{"w":725,"a":33,"v":0.25},{"w":745,"a":33,"v":0.12},{"w":765,"a":33,"v":0.1},
{"w":385,"a":31,"v":0.85},{"w":405,"a":31,"v":0.8},{"w":425,"a":31,"v":0.75},{"w":445,"a":31,"v":0.73},{"w":465,"a":31,"v":0.72},{"w":485,"a":31,"v":0.7},{"w":505,"a":31,"v":0.54},{"w":525,"a":31,"v":0.52},{"w":545,"a":31,"v":0.44},{"w":565,"a":31,"v":0.36},{"w":585,"a":31,"v":0.3},{"w":605,"a":31,"v":0.3},{"w":625,"a":31,"v":0.32},{"w":645,"a":31,"v":0.92},{"w":665,"a":31,"v":0.58},{"w":685,"a":31,"v":0.6},{"w":705,"a":31,"v":0.3},{"w":725,"a":31,"v":0.15},{"w":745,"a":31,"v":0.1},{"w":765,"a":31,"v":0.1},
{"w":385,"a":29,"v":0.8},{"w":405,"a":29,"v":0.76},{"w":425,"a":29,"v":0.74},{"w":445,"a":29,"v":0.72},{"w":465,"a":29,"v":0.72},{"w":485,"a":29,"v":0.7},{"w":505,"a":29,"v":0.62},{"w":525,"a":29,"v":0.56},{"w":545,"a":29,"v":0.5},{"w":565,"a":29,"v":0.46},{"w":585,"a":29,"v":0.4},{"w":605,"a":29,"v":0.48},{"w":625,"a":29,"v":0.9},{"w":645,"a":29,"v":0.55},{"w":665,"a":29,"v":0.65},{"w":685,"a":29,"v":0.35},{"w":705,"a":29,"v":0.15},{"w":725,"a":29,"v":0.22},{"w":745,"a":29,"v":0.62},{"w":765,"a":29,"v":0.22},
{"w":385,"a":27,"v":0.74},{"w":405,"a":27,"v":0.73},{"w":425,"a":27,"v":0.72},{"w":445,"a":27,"v":0.72},{"w":465,"a":27,"v":0.73},{"w":485,"a":27,"v":0.72},{"w":505,"a":27,"v":0.66},{"w":525,"a":27,"v":0.6},{"w":545,"a":27,"v":0.56},{"w":565,"a":27,"v":0.54},{"w":585,"a":27,"v":0.56},{"w":605,"a":27,"v":0.86},{"w":625,"a":27,"v":0.6},{"w":645,"a":27,"v":0.85},{"w":665,"a":27,"v":0.32},{"w":685,"a":27,"v":0.2},{"w":705,"a":27,"v":0.12},{"w":725,"a":27,"v":0.2},{"w":745,"a":27,"v":0.45},{"w":765,"a":27,"v":0.82},
{"w":385,"a":25,"v":0.73},{"w":405,"a":25,"v":0.74},{"w":425,"a":25,"v":0.73},{"w":445,"a":25,"v":0.74},{"w":465,"a":25,"v":0.74},{"w":485,"a":25,"v":0.74},{"w":505,"a":25,"v":0.7},{"w":525,"a":25,"v":0.68},{"w":545,"a":25,"v":0.68},{"w":565,"a":25,"v":0.72},{"w":585,"a":25,"v":0.9},{"w":605,"a":25,"v":0.72},{"w":625,"a":25,"v":0.85},{"w":645,"a":25,"v":0.48},{"w":665,"a":25,"v":0.28},{"w":685,"a":25,"v":0.18},{"w":705,"a":25,"v":0.12},{"w":725,"a":25,"v":0.55},{"w":745,"a":25,"v":0.45},{"w":765,"a":25,"v":0.28},
{"w":385,"a":23,"v":0.75},{"w":405,"a":23,"v":0.73},{"w":425,"a":23,"v":0.75},{"w":445,"a":23,"v":0.76},{"w":465,"a":23,"v":0.75},{"w":485,"a":23,"v":0.76},{"w":505,"a":23,"v":0.74},{"w":525,"a":23,"v":0.72},{"w":545,"a":23,"v":0.76},{"w":565,"a":23,"v":0.85},{"w":585,"a":23,"v":0.94},{"w":605,"a":23,"v":0.8},{"w":625,"a":23,"v":0.55},{"w":645,"a":23,"v":0.32},{"w":665,"a":23,"v":0.22},{"w":685,"a":23,"v":0.15},{"w":705,"a":23,"v":0.62},{"w":725,"a":23,"v":0.3},{"w":745,"a":23,"v":0.2},{"w":765,"a":23,"v":0.12},
{"w":385,"a":21,"v":0.76},{"w":405,"a":21,"v":0.75},{"w":425,"a":21,"v":0.76},{"w":445,"a":21,"v":0.78},{"w":465,"a":21,"v":0.76},{"w":485,"a":21,"v":0.76},{"w":505,"a":21,"v":0.78},{"w":525,"a":21,"v":0.76},{"w":545,"a":21,"v":0.86},{"w":565,"a":21,"v":0.95},{"w":585,"a":21,"v":0.88},{"w":605,"a":21,"v":0.6},{"w":625,"a":21,"v":0.42},{"w":645,"a":21,"v":0.3},{"w":665,"a":21,"v":0.22},{"w":685,"a":21,"v":0.72},{"w":705,"a":21,"v":0.3},{"w":725,"a":21,"v":0.6},{"w":745,"a":21,"v":0.14},{"w":765,"a":21,"v":0.08},
{"w":385,"a":19,"v":0.77},{"w":405,"a":19,"v":0.78},{"w":425,"a":19,"v":0.8},{"w":445,"a":19,"v":0.8},{"w":465,"a":19,"v":0.82},{"w":485,"a":19,"v":0.84},{"w":505,"a":19,"v":0.86},{"w":525,"a":19,"v":0.9},{"w":545,"a":19,"v":0.95},{"w":565,"a":19,"v":0.96},{"w":585,"a":19,"v":0.9},{"w":605,"a":19,"v":0.58},{"w":625,"a":19,"v":0.3},{"w":645,"a":19,"v":0.28},{"w":665,"a":19,"v":0.72},{"w":685,"a":19,"v":0.72},{"w":705,"a":19,"v":0.45},{"w":725,"a":19,"v":0.18},{"w":745,"a":19,"v":0.12},{"w":765,"a":19,"v":0.06},
{"w":385,"a":17,"v":0.8},{"w":405,"a":17,"v":0.82},{"w":425,"a":17,"v":0.84},{"w":445,"a":17,"v":0.85},{"w":465,"a":17,"v":0.85},{"w":485,"a":17,"v":0.86},{"w":505,"a":17,"v":0.92},{"w":525,"a":17,"v":0.95},{"w":545,"a":17,"v":0.95},{"w":565,"a":17,"v":0.92},{"w":585,"a":17,"v":0.72},{"w":605,"a":17,"v":0.5},{"w":625,"a":17,"v":0.35},{"w":645,"a":17,"v":0.82},{"w":665,"a":17,"v":0.62},{"w":685,"a":17,"v":0.25},{"w":705,"a":17,"v":0.15},{"w":725,"a":17,"v":0.15},{"w":745,"a":17,"v":0.15},{"w":765,"a":17,"v":0.15},
{"w":385,"a":15,"v":0.84},{"w":405,"a":15,"v":0.85},{"w":425,"a":15,"v":0.88},{"w":445,"a":15,"v":0.88},{"w":465,"a":15,"v":0.88},{"w":485,"a":15,"v":0.9},{"w":505,"a":15,"v":0.92},{"w":525,"a":15,"v":0.94},{"w":545,"a":15,"v":0.92},{"w":565,"a":15,"v":0.72},{"w":585,"a":15,"v":0.5},{"w":605,"a":15,"v":0.47},{"w":625,"a":15,"v":0.85},{"w":645,"a":15,"v":0.45},{"w":665,"a":15,"v":0.22},{"w":685,"a":15,"v":0.15},{"w":705,"a":15,"v":0.13},{"w":725,"a":15,"v":0.13},{"w":745,"a":15,"v":0.15},{"w":765,"a":15,"v":0.17},
{"w":385,"a":13,"v":0.88},{"w":405,"a":13,"v":0.88},{"w":425,"a":13,"v":0.9},{"w":445,"a":13,"v":0.88},{"w":465,"a":13,"v":0.88},{"w":485,"a":13,"v":0.9},{"w":505,"a":13,"v":0.92},{"w":525,"a":13,"v":0.88},{"w":545,"a":13,"v":0.72},{"w":565,"a":13,"v":0.52},{"w":585,"a":13,"v":0.48},{"w":605,"a":13,"v":0.85},{"w":625,"a":13,"v":0.7},{"w":645,"a":13,"v":0.32},{"w":665,"a":13,"v":0.25},{"w":685,"a":13,"v":0.2},{"w":705,"a":13,"v":0.15},{"w":725,"a":13,"v":0.17},{"w":745,"a":13,"v":0.18},{"w":765,"a":13,"v":0.2},
{"w":385,"a":11,"v":0.9},{"w":405,"a":11,"v":0.88},{"w":425,"a":11,"v":0.92},{"w":445,"a":11,"v":0.9},{"w":465,"a":11,"v":0.88},{"w":485,"a":11,"v":0.88},{"w":505,"a":11,"v":0.88},{"w":525,"a":11,"v":0.78},{"w":545,"a":11,"v":0.58},{"w":565,"a":11,"v":0.5},{"w":585,"a":11,"v":0.72},{"w":605,"a":11,"v":0.95},{"w":625,"a":11,"v":0.46},{"w":645,"a":11,"v":0.35},{"w":665,"a":11,"v":0.28},{"w":685,"a":11,"v":0.25},{"w":705,"a":11,"v":0.24},{"w":725,"a":11,"v":0.25},{"w":745,"a":11,"v":0.3},{"w":765,"a":11,"v":0.32},
{"w":385,"a":9,"v":0.76},{"w":405,"a":9,"v":0.74},{"w":425,"a":9,"v":0.76},{"w":445,"a":9,"v":0.76},{"w":465,"a":9,"v":0.76},{"w":485,"a":9,"v":0.76},{"w":505,"a":9,"v":0.8},{"w":525,"a":9,"v":0.76},{"w":545,"a":9,"v":0.68},{"w":565,"a":9,"v":0.78},{"w":585,"a":9,"v":0.88},{"w":605,"a":9,"v":0.6},{"w":625,"a":9,"v":0.42},{"w":645,"a":9,"v":0.38},{"w":665,"a":9,"v":0.35},{"w":685,"a":9,"v":0.35},{"w":705,"a":9,"v":0.35},{"w":725,"a":9,"v":0.38},{"w":745,"a":9,"v":0.44},{"w":765,"a":9,"v":0.52},
{"w":385,"a":7,"v":0.66},{"w":405,"a":7,"v":0.66},{"w":425,"a":7,"v":0.66},{"w":445,"a":7,"v":0.66},{"w":465,"a":7,"v":0.66},{"w":485,"a":7,"v":0.68},{"w":505,"a":7,"v":0.76},{"w":525,"a":7,"v":0.8},{"w":545,"a":7,"v":0.85},{"w":565,"a":7,"v":0.94},{"w":585,"a":7,"v":0.62},{"w":605,"a":7,"v":0.52},{"w":625,"a":7,"v":0.48},{"w":645,"a":7,"v":0.48},{"w":665,"a":7,"v":0.47},{"w":685,"a":7,"v":0.48},{"w":705,"a":7,"v":0.54},{"w":725,"a":7,"v":0.68},{"w":745,"a":7,"v":0.88},{"w":765,"a":7,"v":0.94},
{"w":385,"a":5,"v":0.64},{"w":405,"a":5,"v":0.65},{"w":425,"a":5,"v":0.62},{"w":445,"a":5,"v":0.62},{"w":465,"a":5,"v":0.65},{"w":485,"a":5,"v":0.68},{"w":505,"a":5,"v":0.78},{"w":525,"a":5,"v":0.94},{"w":545,"a":5,"v":0.92},{"w":565,"a":5,"v":0.68},{"w":585,"a":5,"v":0.68},{"w":605,"a":5,"v":0.58},{"w":625,"a":5,"v":0.58},{"w":645,"a":5,"v":0.54},{"w":665,"a":5,"v":0.54},{"w":685,"a":5,"v":0.58},{"w":705,"a":5,"v":0.72},{"w":725,"a":5,"v":0.9},{"w":745,"a":5,"v":0.92},{"w":765,"a":5,"v":0.62},
{"w":385,"a":3,"v":0.68},{"w":405,"a":3,"v":0.68},{"w":425,"a":3,"v":0.66},{"w":445,"a":3,"v":0.68},{"w":465,"a":3,"v":0.72},{"w":485,"a":3,"v":0.78},{"w":505,"a":3,"v":0.9},{"w":525,"a":3,"v":0.85},{"w":545,"a":3,"v":0.72},{"w":565,"a":3,"v":0.96},{"w":585,"a":3,"v":0.88},{"w":605,"a":3,"v":0.74},{"w":625,"a":3,"v":0.58},{"w":645,"a":3,"v":0.52},{"w":665,"a":3,"v":0.5},{"w":685,"a":3,"v":0.46},{"w":705,"a":3,"v":0.48},{"w":725,"a":3,"v":0.5},{"w":745,"a":3,"v":0.48},{"w":765,"a":3,"v":0.5},
{"w":385,"a":1,"v":0.84},{"w":405,"a":1,"v":0.8},{"w":425,"a":1,"v":0.74},{"w":445,"a":1,"v":0.8},{"w":465,"a":1,"v":0.85},{"w":485,"a":1,"v":0.88},{"w":505,"a":1,"v":0.82},{"w":525,"a":1,"v":0.74},{"w":545,"a":1,"v":0.72},{"w":565,"a":1,"v":0.86},{"w":585,"a":1,"v":0.8},{"w":605,"a":1,"v":0.64},{"w":625,"a":1,"v":0.46},{"w":645,"a":1,"v":0.42},{"w":665,"a":1,"v":0.4},{"w":685,"a":1,"v":0.38},{"w":705,"a":1,"v":0.38},{"w":725,"a":1,"v":0.38},{"w":745,"a":1,"v":0.42},{"w":765,"a":1,"v":0.44}],
"xt":[{"t":400,"a":0,"b":2},{"t":500,"a":0,"b":2},{"t":600,"a":0,"b":2},{"t":700,"a":0,"b":2},{"t":450,"a":0,"b":1},{"t":550,"a":0,"b":1},{"t":650,"a":0,"b":1},{"t":750,"a":0,"b":1},{"t":400,"a":90,"b":88},{"t":500,"a":90,"b":88},{"t":600,"a":90,"b":88},{"t":700,"a":90,"b":88},{"t":450,"a":90,"b":89},{"t":550,"a":90,"b":89},{"t":650,"a":90,"b":89},{"t":750,"a":90,"b":89}],
"yt":[{"t":20,"a":375,"b":381.5},{"t":40,"a":375,"b":381.5},{"t":60,"a":375,"b":381.5},{"t":80,"a":375,"b":381.5},{"t":10,"a":375,"b":378.2},{"t":30,"a":375,"b":378.2},{"t":50,"a":375,"b":378.2},{"t":70,"a":375,"b":378.2},{"t":20,"a":775,"b":768.5},{"t":40,"a":775,"b":768.5},{"t":60,"a":775,"b":768.5},{"t":80,"a":775,"b":768.5},{"t":10,"a":775,"b":771.8},{"t":30,"a":775,"b":771.8},{"t":50,"a":775,"b":771.8},{"t":70,"a":775,"b":771.8}],
"fr":[{"x":375,"x2":775,"y":0,"y2":90}],
"bs":[{"x":389,"x2":417,"y":85.5,"y2":71.4,"sx":394,"sx2":422,"sy":84.3,"sy2":70,"tx":403,"ty":75,"t":"S"}],
"bp":[{"x":391.5,"x2":419.4,"y":86.6,"y2":72.3,"sx":396.3,"sx2":425,"sy":85.2,"sy2":71,"tx":405.3,"ty":76,"t":"P"}],
"cb":[{"v":-0.0167},{"v":0.0167},{"v":0.05},{"v":0.0833},{"v":0.1167},{"v":0.15},{"v":0.1833},{"v":0.2167},{"v":0.25},{"v":0.2833},{"v":0.3167},{"v":0.35},{"v":0.3833},{"v":0.4167},{"v":0.45},{"v":0.4833},{"v":0.5167},{"v":0.55},{"v":0.5833},{"v":0.6167},{"v":0.65},{"v":0.6833},{"v":0.7167},{"v":0.75},{"v":0.7833},{"v":0.8167},{"v":0.85},{"v":0.8833},{"v":0.9167},{"v":0.95},{"v":0.9833},{"v":1.0167}]},
"hconcat":[
{"width":1241,"height":1087,"layer":[
{"data":{"name":"S"},"transform":[{"filter":"datum.a>46"}],"mark":{"type":"rect","width":62.6,"height":48.8},"encoding":{"x":{"field":"w","type":"quantitative","scale":{"domain":[375,775],"nice":false,"zero":false},"axis":{"values":[400,500,600,700],"grid":false,"ticks":false,"domain":false,"title":"Wavelength (nm)","titleFont":"Liberation Serif","titleFontSize":90,"titleFontWeight":"normal","titleColor":"black","titleBaseline":"alphabetic","titleAnchor":"middle","titleX":620,"titleY":169,"labelFont":"Liberation Sans","labelFontSize":62,"labelColor":"black","labelPadding":28,"labelOverlap":false,"labelFlush":false}},"y":{"field":"a","type":"quantitative","scale":{"domain":[0,90],"nice":false,"zero":false},"axis":{"values":[0,20,40,60,80],"grid":false,"ticks":false,"domain":false,"title":"Angle of incidence (deg)","titleFont":"Liberation Serif","titleFontSize":91,"titleFontWeight":"normal","titleColor":"black","titleBaseline":"alphabetic","titleAnchor":"middle","titleX":-154.5,"titleY":578,"labelFont":"Liberation Sans","labelFontSize":62,"labelColor":"black","labelPadding":28,"labelOverlap":false,"labelFlush":false}},"color":{"field":"v","type":"quantitative","legend":null,"scale":{"type":"threshold","domain":[0,0.0333,0.0667,0.1,0.1333,0.1667,0.2,0.2333,0.2667,0.3,0.3333,0.3667,0.4,0.4333,0.4667,0.5,0.5333,0.5667,0.6,0.6333,0.6667,0.7,0.7333,0.7667,0.8,0.8333,0.8667,0.9,0.9333,0.9667,1],"range":["#000000","#0000ff","#0022ff","#0044ff","#0066ff","#0090ff","#00b0ff","#00d8ff","#00ffff","#00ffd8","#00ffc0","#00ffa0","#00ff80","#00ff60","#00ff40","#00ff20","#00ff00","#22ff00","#4dff00","#70ff00","#90ff00","#b0ff00","#ddff00","#ffff00","#ffda00","#ffb000","#ff9400","#ff6e00","#ff5000","#ff2a00","#ff0000","#c0c0c0"]}}}},
{"data":{"name":"S"},"transform":[{"filter":"datum.a<46"}],"mark":{"type":"rect","width":62.6,"height":24.6},"encoding":{"x":{"field":"w","type":"quantitative"},"y":{"field":"a","type":"quantitative"},"color":{"field":"v","type":"quantitative","legend":null,"scale":{"type":"threshold","domain":[0,0.0333,0.0667,0.1,0.1333,0.1667,0.2,0.2333,0.2667,0.3,0.3333,0.3667,0.4,0.4333,0.4667,0.5,0.5333,0.5667,0.6,0.6333,0.6667,0.7,0.7333,0.7667,0.8,0.8333,0.8667,0.9,0.9333,0.9667,1],"range":["#000000","#0000ff","#0022ff","#0044ff","#0066ff","#0090ff","#00b0ff","#00d8ff","#00ffff","#00ffd8","#00ffc0","#00ffa0","#00ff80","#00ff60","#00ff40","#00ff20","#00ff00","#22ff00","#4dff00","#70ff00","#90ff00","#b0ff00","#ddff00","#ffff00","#ffda00","#ffb000","#ff9400","#ff6e00","#ff5000","#ff2a00","#ff0000","#c0c0c0"]}}}},
{"data":{"name":"xt"},"mark":{"type":"rule","strokeWidth":5,"color":"black","strokeCap":"round"},"encoding":{"x":{"field":"t","type":"quantitative"},"y":{"field":"a","type":"quantitative"},"y2":{"field":"b"}}},
{"data":{"name":"yt"},"mark":{"type":"rule","strokeWidth":5,"color":"black","strokeCap":"round"},"encoding":{"y":{"field":"t","type":"quantitative"},"x":{"field":"a","type":"quantitative"},"x2":{"field":"b"}}},
{"data":{"name":"fr"},"mark":{"type":"rect","fillOpacity":0,"stroke":"black","strokeWidth":5},"encoding":{"x":{"field":"x","type":"quantitative"},"x2":{"field":"x2"},"y":{"field":"y","type":"quantitative"},"y2":{"field":"y2"}}},
{"data":{"name":"bs"},"mark":{"type":"rect","fill":"black"},"encoding":{"x":{"field":"sx","type":"quantitative"},"x2":{"field":"sx2"},"y":{"field":"sy","type":"quantitative"},"y2":{"field":"sy2"}}},
{"data":{"name":"bs"},"mark":{"type":"rect","fill":"white","stroke":"black","strokeWidth":3},"encoding":{"x":{"field":"x","type":"quantitative"},"x2":{"field":"x2"},"y":{"field":"y","type":"quantitative"},"y2":{"field":"y2"}}},
{"data":{"name":"bs"},"mark":{"type":"text","font":"Liberation Serif","fontSize":125,"color":"black","align":"center","baseline":"alphabetic"},"encoding":{"x":{"field":"tx","type":"quantitative"},"y":{"field":"ty","type":"quantitative"},"text":{"field":"t"}}}
]},
{"width":182,"height":661,"data":{"name":"cb"},"mark":{"type":"rect","height":19.6},"encoding":{"y":{"field":"v","type":"quantitative","scale":{"domain":[-0.0333,1.1167],"nice":false,"zero":false},"axis":{"orient":"right","values":[0,0.16667,0.33333,0.5,0.66667,0.83333,1],"labelExpr":"datum.value==0?'0':datum.value==1?'1.000':format(datum.value,'.4f')","title":null,"grid":false,"ticks":false,"domain":false,"labelFont":"Liberation Sans","labelFontSize":36,"labelColor":"black","labelPadding":13,"labelOverlap":false,"labelFlush":false}},"color":{"field":"v","type":"quantitative","legend":null,"scale":{"type":"threshold","domain":[0,0.0333,0.0667,0.1,0.1333,0.1667,0.2,0.2333,0.2667,0.3,0.3333,0.3667,0.4,0.4333,0.4667,0.5,0.5333,0.5667,0.6,0.6333,0.6667,0.7,0.7333,0.7667,0.8,0.8333,0.8667,0.9,0.9333,0.9667,1],"range":["#000000","#0000ff","#0022ff","#0044ff","#0066ff","#0090ff","#00b0ff","#00d8ff","#00ffff","#00ffd8","#00ffc0","#00ffa0","#00ff80","#00ff60","#00ff40","#00ff20","#00ff00","#22ff00","#4dff00","#70ff00","#90ff00","#b0ff00","#ddff00","#ffff00","#ffda00","#ffb000","#ff9400","#ff6e00","#ff5000","#ff2a00","#ff0000","#c0c0c0"]}}}},
{"width":362,"height":10,"data":{"name":"fr"},"mark":{"type":"point","opacity":0},"encoding":{}},
{"width":1241,"height":1087,"layer":[
{"data":{"name":"P"},"transform":[{"filter":"datum.a>46"}],"mark":{"type":"rect","width":62.6,"height":48.8},"encoding":{"x":{"field":"w","type":"quantitative","scale":{"domain":[375,775],"nice":false,"zero":false},"axis":{"values":[400,500,600,700],"grid":false,"ticks":false,"domain":false,"title":"Wavelength (nm)","titleFont":"Liberation Serif","titleFontSize":90,"titleFontWeight":"normal","titleColor":"black","titleBaseline":"alphabetic","titleAnchor":"middle","titleX":658,"titleY":169,"labelFont":"Liberation Sans","labelFontSize":62,"labelColor":"black","labelPadding":28,"labelOverlap":false,"labelFlush":false}},"y":{"field":"a","type":"quantitative","scale":{"domain":[0,90],"nice":false,"zero":false},"axis":{"values":[0,20,40,60,80],"grid":false,"ticks":false,"domain":false,"title":"Angle of incidence (deg)","titleFont":"Liberation Serif","titleFontSize":91,"titleFontWeight":"normal","titleColor":"black","titleBaseline":"alphabetic","titleAnchor":"middle","titleX":-154.5,"titleY":578,"labelFont":"Liberation Sans","labelFontSize":62,"labelColor":"black","labelPadding":28,"labelOverlap":false,"labelFlush":false}},"color":{"field":"v","type":"quantitative","legend":null,"scale":{"type":"threshold","domain":[0,0.0333,0.0667,0.1,0.1333,0.1667,0.2,0.2333,0.2667,0.3,0.3333,0.3667,0.4,0.4333,0.4667,0.5,0.5333,0.5667,0.6,0.6333,0.6667,0.7,0.7333,0.7667,0.8,0.8333,0.8667,0.9,0.9333,0.9667,1],"range":["#000000","#0000ff","#0022ff","#0044ff","#0066ff","#0090ff","#00b0ff","#00d8ff","#00ffff","#00ffd8","#00ffc0","#00ffa0","#00ff80","#00ff60","#00ff40","#00ff20","#00ff00","#22ff00","#4dff00","#70ff00","#90ff00","#b0ff00","#ddff00","#ffff00","#ffda00","#ffb000","#ff9400","#ff6e00","#ff5000","#ff2a00","#ff0000","#c0c0c0"]}}}},
{"data":{"name":"P"},"transform":[{"filter":"datum.a<46"}],"mark":{"type":"rect","width":62.6,"height":24.6},"encoding":{"x":{"field":"w","type":"quantitative"},"y":{"field":"a","type":"quantitative"},"color":{"field":"v","type":"quantitative","legend":null,"scale":{"type":"threshold","domain":[0,0.0333,0.0667,0.1,0.1333,0.1667,0.2,0.2333,0.2667,0.3,0.3333,0.3667,0.4,0.4333,0.4667,0.5,0.5333,0.5667,0.6,0.6333,0.6667,0.7,0.7333,0.7667,0.8,0.8333,0.8667,0.9,0.9333,0.9667,1],"range":["#000000","#0000ff","#0022ff","#0044ff","#0066ff","#0090ff","#00b0ff","#00d8ff","#00ffff","#00ffd8","#00ffc0","#00ffa0","#00ff80","#00ff60","#00ff40","#00ff20","#00ff00","#22ff00","#4dff00","#70ff00","#90ff00","#b0ff00","#ddff00","#ffff00","#ffda00","#ffb000","#ff9400","#ff6e00","#ff5000","#ff2a00","#ff0000","#c0c0c0"]}}}},
{"data":{"name":"xt"},"mark":{"type":"rule","strokeWidth":5,"color":"black","strokeCap":"round"},"encoding":{"x":{"field":"t","type":"quantitative"},"y":{"field":"a","type":"quantitative"},"y2":{"field":"b"}}},
{"data":{"name":"yt"},"mark":{"type":"rule","strokeWidth":5,"color":"black","strokeCap":"round"},"encoding":{"y":{"field":"t","type":"quantitative"},"x":{"field":"a","type":"quantitative"},"x2":{"field":"b"}}},
{"data":{"name":"fr"},"mark":{"type":"rect","fillOpacity":0,"stroke":"black","strokeWidth":5},"encoding":{"x":{"field":"x","type":"quantitative"},"x2":{"field":"x2"},"y":{"field":"y","type":"quantitative"},"y2":{"field":"y2"}}},
{"data":{"name":"bp"},"mark":{"type":"rect","fill":"black"},"encoding":{"x":{"field":"sx","type":"quantitative"},"x2":{"field":"sx2"},"y":{"field":"sy","type":"quantitative"},"y2":{"field":"sy2"}}},
{"data":{"name":"bp"},"mark":{"type":"rect","fill":"white","stroke":"black","strokeWidth":3},"encoding":{"x":{"field":"x","type":"quantitative"},"x2":{"field":"x2"},"y":{"field":"y","type":"quantitative"},"y2":{"field":"y2"}}},
{"data":{"name":"bp"},"mark":{"type":"text","font":"Liberation Serif","fontSize":125,"color":"black","align":"center","baseline":"alphabetic"},"encoding":{"x":{"field":"tx","type":"quantitative"},"y":{"field":"ty","type":"quantitative"},"text":{"field":"t"}}}
]},
{"width":182,"height":661,"data":{"name":"cb"},"mark":{"type":"rect","height":19.6},"encoding":{"y":{"field":"v","type":"quantitative","scale":{"domain":[-0.0333,1.1167],"nice":false,"zero":false},"axis":{"orient":"right","values":[0,0.16667,0.33333,0.5,0.66667,0.83333,1],"labelExpr":"datum.value==0?'0':datum.value==1?'1.000':format(datum.value,'.4f')","title":null,"grid":false,"ticks":false,"domain":false,"labelFont":"Liberation Sans","labelFontSize":36,"labelColor":"black","labelPadding":13,"labelOverlap":false,"labelFlush":false}},"color":{"field":"v","type":"quantitative","legend":null,"scale":{"type":"threshold","domain":[0,0.0333,0.0667,0.1,0.1333,0.1667,0.2,0.2333,0.2667,0.3,0.3333,0.3667,0.4,0.4333,0.4667,0.5,0.5333,0.5667,0.6,0.6333,0.6667,0.7,0.7333,0.7667,0.8,0.8333,0.8667,0.9,0.9333,0.9667,1],"range":["#000000","#0000ff","#0022ff","#0044ff","#0066ff","#0090ff","#00b0ff","#00d8ff","#00ffff","#00ffd8","#00ffc0","#00ffa0","#00ff80","#00ff60","#00ff40","#00ff20","#00ff00","#22ff00","#4dff00","#70ff00","#90ff00","#b0ff00","#ddff00","#ffff00","#ffda00","#ffb000","#ff9400","#ff6e00","#ff5000","#ff2a00","#ff0000","#c0c0c0"]}}}}
]}
